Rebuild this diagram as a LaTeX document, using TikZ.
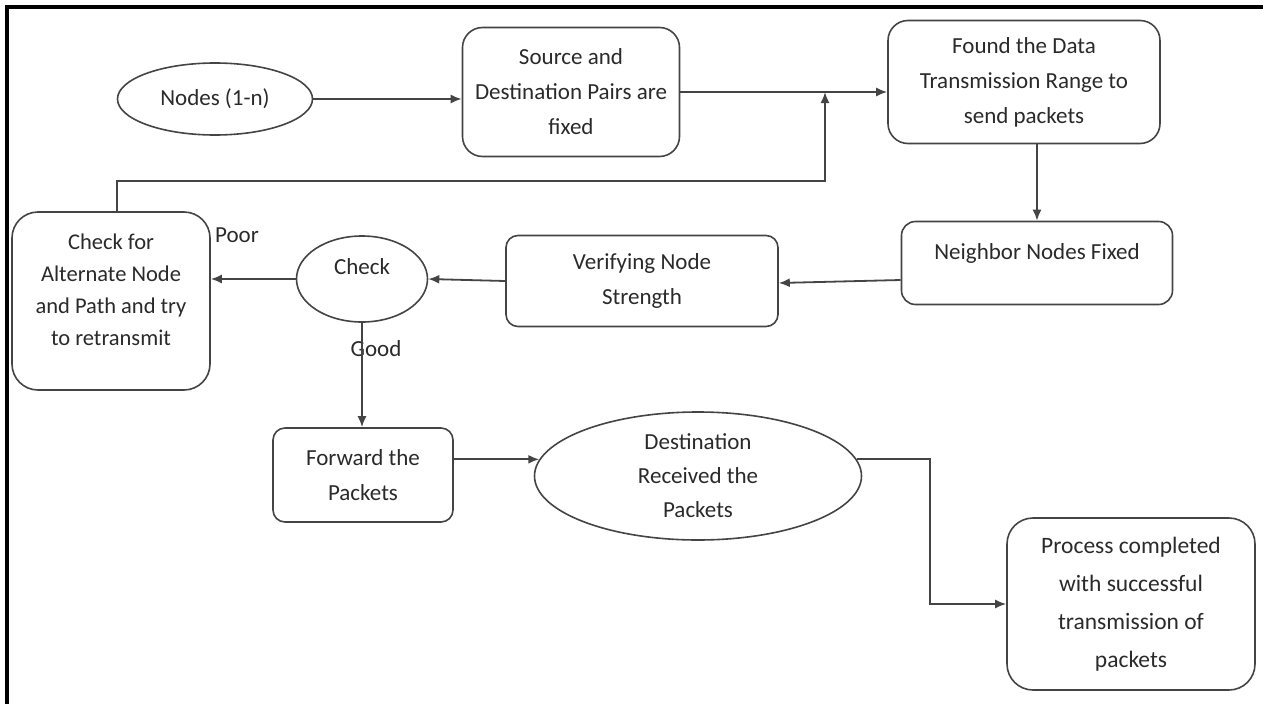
\documentclass[tikz,border=0pt]{standalone}
\usepackage{fontspec}
\setmainfont{Carlito}
\usetikzlibrary{arrows.meta,shapes.geometric}

\definecolor{edgegray}{HTML}{444444}
\definecolor{txtgray}{HTML}{2A2A2A}

\tikzset{
	flowbox/.style={draw=edgegray, line width=1.6pt, rounded corners=20pt, align=center,
		text=txtgray, inner sep=0pt},
	flowoval/.style={draw=edgegray, line width=1.6pt, ellipse, align=center,
		text=txtgray, inner sep=0pt},
	flowarr/.style={draw=edgegray, line width=1.8pt, -{Latex[length=11pt,width=9pt]}},
	lbl/.style={text=txtgray, inner sep=0pt}
}

\begin{document}
\begin{tikzpicture}[x=1pt,y=-1pt,font=\fontsize{23}{35}\selectfont]
	\useasboundingbox (0,0) rectangle (1263,704);
	\draw [line width=4pt] (7,704) -- (7,7) -- (1263,7);

	% top row
	\node [flowoval, minimum width=195pt, minimum height=72pt] (nodes) at (215,99) {Nodes (1-n)};
	\node [flowbox, minimum width=217pt, minimum height=129pt] (src) at (571,92) {Source and\\Destination Pairs are\\fixed};
	\node [flowbox, minimum width=272pt, minimum height=123pt] (found) at (1024,82) {Found the Data\\Transmission Range to\\send packets};

	% middle row
	\node [flowbox, rounded corners=14pt, minimum width=271pt, minimum height=83pt] (nb) at (1037,263) {Neighbor Nodes Fixed\\[-13pt]\mbox{}};
	\node [flowbox, rounded corners=12pt, minimum width=272pt, minimum height=91pt] (ver) at (642,281) {Verifying Node\\Strength};
	\node [flowoval, minimum width=131pt, minimum height=86pt] (chk) at (362,279) {Check\\[-10pt]\mbox{}};
	\node [flowbox, rounded corners=26pt, minimum width=198pt, minimum height=178pt,
		font=\fontsize{22.5}{32}\selectfont] (alt) at (111,301) {Check for\\Alternate Node\\and Path and try\\to retransmit\\[-10pt]\mbox{}};
	\node [lbl] (poor) at (237,235) {Poor};
	\node [lbl] (good) at (376,349) {Good};

	% bottom row
	\node [flowbox, rounded corners=12pt, minimum width=180pt, minimum height=94pt] (fwd) at (363,475) {Forward the\\Packets};
	\node [flowoval, minimum width=327pt, minimum height=128pt, font=\fontsize{23}{34}\selectfont] (dst) at (698,476) {Destination\\Received the\\Packets};
	\node [flowbox, rounded corners=26pt, minimum width=248pt, minimum height=172pt,
		font=\fontsize{23.5}{38}\selectfont] (proc) at (1131,604) {Process completed\\with successful\\transmission of\\packets};

	\coordinate (junc) at (825,92);
	\coordinate (fbturn) at (825,181);

	\draw [flowarr] (nodes.east) -- (nodes.east -| src.west);
	\draw [flowarr] (src.east) -- (src.east -| found.west);
	\draw [flowarr] ([xshift=6pt]alt.north) |- (fbturn) -- (junc);
	\draw [flowarr] (nb.north |- found.south) -- (nb.north);
	\draw [flowarr] ([yshift=-17pt]nb.west) -- ([yshift=-2pt]ver.east);
	\draw [flowarr] (ver.west) -- (chk.east);
	\draw [flowarr] (chk.west) -- (chk.west -| alt.east);
	\draw [flowarr] (chk.south) -- (chk.south |- fwd.north);
	\draw [flowarr] (fwd.east |- dst.174) -- (dst.174);
	\draw [flowarr] (dst.6) -- ++(73,0) |- (proc.west);
\end{tikzpicture}
\end{document}
